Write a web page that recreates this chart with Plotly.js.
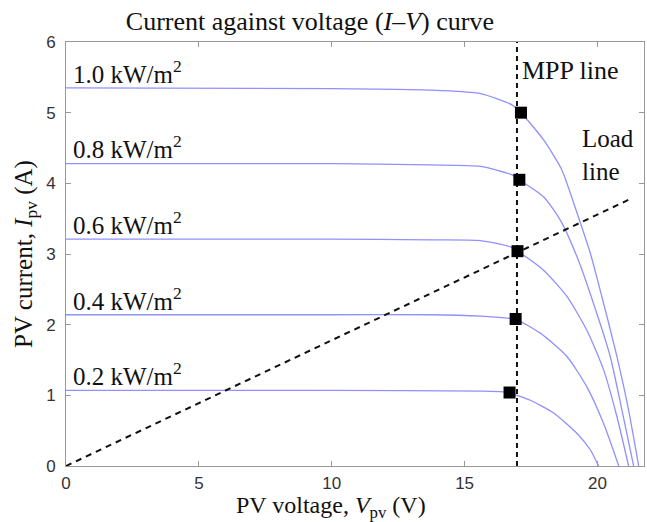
<!DOCTYPE html>
<html>
<head>
<meta charset="utf-8">
<script src="https://cdn.plot.ly/plotly-3.0.1.min.js"></script>
<style>html,body{margin:0;padding:0;background:#fff}#chart{width:647px;height:522px}</style>
</head>
<body>
<div id="chart"></div>
<script>
// Irradiance labels
const irradianceLabels = ["1.0 kW/m<sup>2</sup>", "0.8 kW/m<sup>2</sup>", "0.6 kW/m<sup>2</sup>", "0.4 kW/m<sup>2</sup>", "0.2 kW/m<sup>2</sup>"];

// I-V curves (voltage V, current A)
const v10 = [0, 10, 13.7, 15.6, 16.78, 17.12, 17.47, 18.0, 18.66, 19.23, 19.73, 20.23, 20.73, 21.17, 21.55];
const i10 = [5.35, 5.34, 5.32, 5.27, 5.11, 5.00, 4.85, 4.60, 4.19, 3.58, 3.01, 2.30, 1.55, 0.79, 0];

const v08 = [0, 10, 13.7, 15.6, 16.78, 17.06, 17.97, 18.6, 19.23, 19.85, 20.48, 20.92, 21.36];
const i08 = [4.28, 4.28, 4.26, 4.24, 4.12, 4.05, 3.81, 3.48, 2.96, 2.30, 1.55, 0.79, 0];

const v06 = [0, 10, 13.7, 15.6, 16.72, 16.99, 17.97, 18.85, 19.6, 20.23, 20.73, 21.17];
const i06 = [3.21, 3.21, 3.20, 3.19, 3.10, 3.04, 2.77, 2.40, 1.92, 1.36, 0.70, 0];

const v04 = [0, 10, 13.7, 15.6, 16.7, 16.92, 17.85, 18.85, 19.6, 20.23, 20.8];
const i04 = [2.14, 2.14, 2.14, 2.12, 2.09, 2.08, 1.88, 1.55, 1.12, 0.60, 0];

const v02 = [0, 10, 15.71, 16.45, 16.69, 16.97, 17.47, 18.35, 19.23, 19.73, 20.04];
const i02 = [1.07, 1.07, 1.06, 1.05, 1.04, 1.00, 0.93, 0.75, 0.46, 0.23, 0];

// Maximum power points
const mppV = [17.12, 17.06, 16.99, 16.92, 16.69];
const mppI = [5.00, 4.05, 3.04, 2.08, 1.04];

// MPP line and load line
const mppLineV = [16.97, 16.97];
const mppLineI = [0, 6];
const loadLineV = [0, 21.3];
const loadLineI = [0, 3.79];

// Label anchor positions (data units)
const labelV = [0.2, 0.2, 0.2, 0.2, 0.2];
const labelI = [5.58, 4.51, 3.44, 2.37, 1.30];

const curveColor = "#9090ff";
const curves = [[v10, i10], [v08, i08], [v06, i06], [v04, i04], [v02, i02]];

const traces = curves.map((c, k) => ({
  x: c[0], y: c[1], type: "scatter", mode: "lines",
  line: {color: curveColor, width: 1.3, shape: "spline", smoothing: 0.6},
  name: irradianceLabels[k], hoverinfo: "x+y"
}));

traces.push({
  x: mppLineV, y: mppLineI, type: "scatter", mode: "lines",
  line: {color: "#111", width: 2, dash: "5px,4px"}, name: "MPP line"
});
traces.push({
  x: loadLineV, y: loadLineI, type: "scatter", mode: "lines",
  line: {color: "#111", width: 2, dash: "6px,5px"}, name: "Load line"
});
traces.push({
  x: mppV, y: mppI, type: "scatter", mode: "markers",
  marker: {symbol: "square", size: 12, color: "#000"}, name: "MPP"
});

const serif = "Liberation Serif, Times New Roman, serif";
const sans = "Liberation Sans, Arial, sans-serif";

const annotations = irradianceLabels.map((t, k) => ({
  x: labelV[k], y: labelI[k], xref: "x", yref: "y", text: t, showarrow: false,
  xanchor: "left", yanchor: "middle", font: {family: serif, size: 25, color: "#111"}
}));
annotations.push({x: 17.1, y: 5.6, xref: "x", yref: "y", text: "MPP line", showarrow: false,
  xanchor: "left", yanchor: "middle", font: {family: serif, size: 26, color: "#111"}});
annotations.push({x: 19.35, y: 4.4, xref: "x", yref: "y", text: "Load<br>line", showarrow: false,
  xanchor: "left", yanchor: "middle", align: "left", font: {family: serif, size: 25, color: "#111"}});
// x-axis title (placed like the reference, left of the axis centre)
annotations.push({x: 0.458, y: 0, xref: "paper", yref: "paper", yanchor: "top", yshift: -24,
  text: "PV voltage, <i>V</i><sub>pv</sub> (V)", showarrow: false,
  font: {family: serif, size: 24, color: "#111"}});

const axisCommon = {
  showline: true, linecolor: "#999", linewidth: 1, mirror: "ticks",
  ticks: "inside", ticklen: 5, tickcolor: "#999", showgrid: false, zeroline: false,
  tickfont: {family: sans, size: 17, color: "#333"}
};

const layout = {
  width: 647, height: 522,
  margin: {l: 66, r: 3, t: 42, b: 56},
  paper_bgcolor: "#fff", plot_bgcolor: "#fff",
  showlegend: false,
  title: {text: "Current against voltage (<i>I–V</i>) curve", x: 0.422, xref: "paper", xanchor: "center",
    y: 0.96, yref: "container", yanchor: "middle", font: {family: serif, size: 26, color: "#111"}},
  xaxis: Object.assign({}, axisCommon, {range: [0, 21.75], tickvals: [0, 5, 10, 15, 20],
    ticklabelstandoff: 2}),
  yaxis: Object.assign({}, axisCommon, {range: [0, 6], tickvals: [0, 1, 2, 3, 4, 5, 6],
    ticklabelstandoff: 6,
    title: {text: "PV current, <i>I</i><sub>pv</sub> (A)", standoff: 6, font: {family: serif, size: 25, color: "#111"}}}),
  annotations: annotations
};

Plotly.newPlot("chart", traces, layout, {displayModeBar: false});
</script>
</body>
</html>
